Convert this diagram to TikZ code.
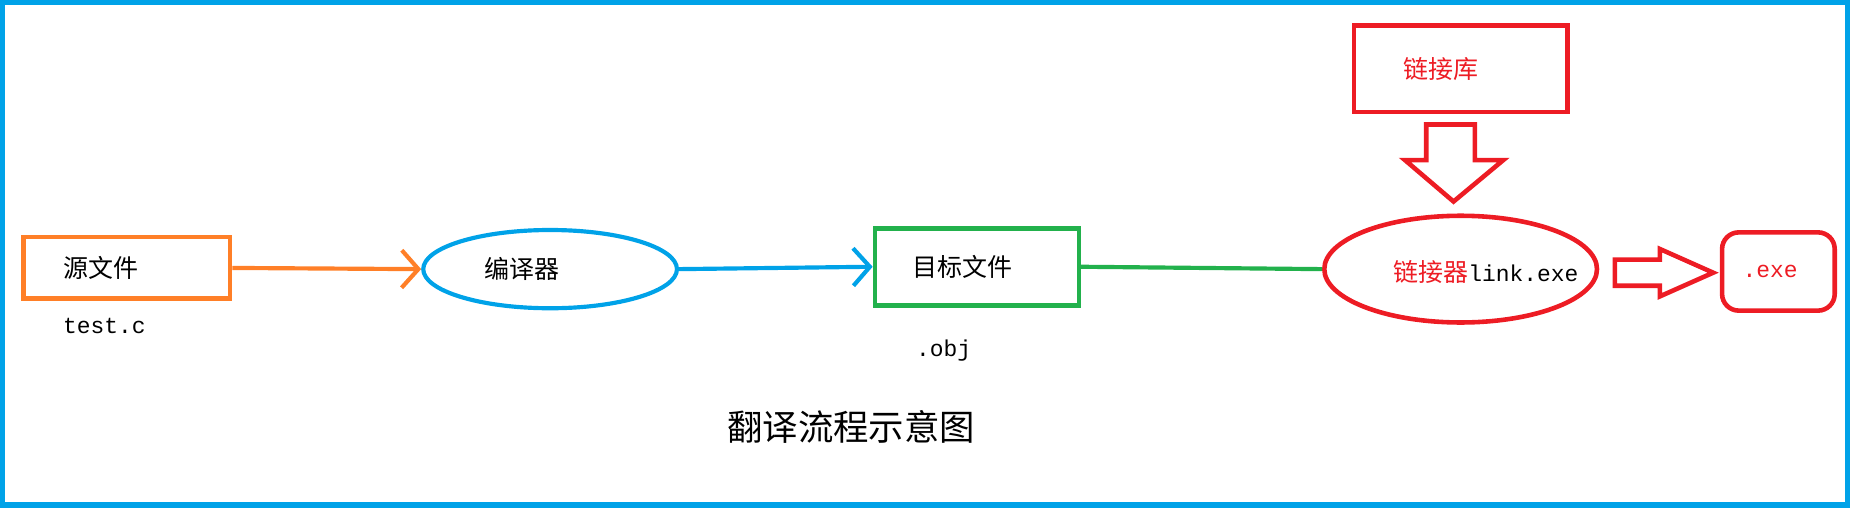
\documentclass[tikz,border=0pt]{standalone}
\usepackage{fontspec}
\setmainfont{Liberation Serif}
\newfontfamily\cjk{Noto Sans CJK SC}
\setmonofont{Liberation Mono}
\usetikzlibrary{arrows.meta,shapes.geometric,shapes.arrows}
\definecolor{frameblue}{HTML}{00A2E8}
\definecolor{srcorange}{HTML}{FF7F27}
\definecolor{objgreen}{HTML}{22B14C}
\definecolor{linkred}{HTML}{ED1C24}
\tikzset{boxnode/.style={draw,line width=2.2pt,minimum width=#1,inner sep=0pt,font=\cjk\fontsize{12}{14}\selectfont}}
\tikzset{flowline/.style={line width=2pt,-{Straight Barb[length=8pt,width=18pt,line width=2pt]}}}
\tikzset{fileext/.style={font=\ttfamily\fontsize{11}{13}\selectfont}}
\begin{document}
\begin{tikzpicture}[x=0.02cm,y=-0.02cm]
      \useasboundingbox (0,0) rectangle (1568,432);
      \draw[frameblue,line width=2.5pt] (2,2) rectangle (1558,426);

      \node[boxnode=174*0.02cm,minimum height=52*0.02cm,draw=srcorange] (src) at (107,226) {};
      \node[font=\cjk\fontsize{12}{14}\selectfont] (srct) at (85,226) {源文件};
      \node[fileext] (srcn) at (88,275) {test.c};

      \node[ellipse,boxnode=214*0.02cm,minimum height=66*0.02cm,draw=frameblue,line width=2pt] (cc) at (464,227) {};
      \node[font=\cjk\fontsize{12}{14}\selectfont] (cct) at (440,227) {编译器};

      \node[boxnode=172*0.02cm,minimum height=65*0.02cm,draw=objgreen] (obj) at (824,225) {};
      \node[font=\cjk\fontsize{12}{14}\selectfont] (objt) at (812,225) {目标文件};
      \node[fileext] (objn) at (796,296) {.obj};

      \node[ellipse,boxnode=230*0.02cm,minimum height=90*0.02cm,draw=linkred] (ld) at (1232,227) {};
      \node[anchor=west,inner sep=0pt] (ldt) at (1175,229) {\textcolor{linkred}{\cjk\fontsize{12}{14}\selectfont 链接器}\fontsize{11}{13}\selectfont\ttfamily link.exe};

      \node[boxnode=180*0.02cm,minimum height=73*0.02cm,draw=linkred] (lib) at (1232,58) {};
      \node[font=\cjk\fontsize{12}{14}\selectfont,text=linkred] (libt) at (1215,58) {链接库};

      \node[boxnode=95*0.02cm,minimum height=66*0.02cm,draw=linkred,rounded corners=8pt] (exe) at (1500,229) {};
      \node[fileext,text=linkred] (exet) at (1493,229) {.exe};

      \node[font=\cjk\fontsize{17}{20}\selectfont] (title) at (718,360) {翻译流程示意图};

      \draw[flowline,srcorange] (src.east) -- (cc.west);
      \draw[flowline,frameblue] (cc.east) -- (obj.west);
      \draw[objgreen,line width=2pt] (obj.east) -- (ld.west);

      \draw[linkred,line width=2.2pt,line join=miter] (1203,105) -- (1244,105) -- (1244,135) -- (1268,135)
        -- (1226,170) -- (1185,135) -- (1203,135) -- cycle;
      \draw[linkred,line width=2.2pt,line join=miter] (1362,219) -- (1400,219) -- (1400,210) -- (1445,230)
        -- (1400,250) -- (1400,241) -- (1362,241) -- cycle;
\end{tikzpicture}
\end{document}
